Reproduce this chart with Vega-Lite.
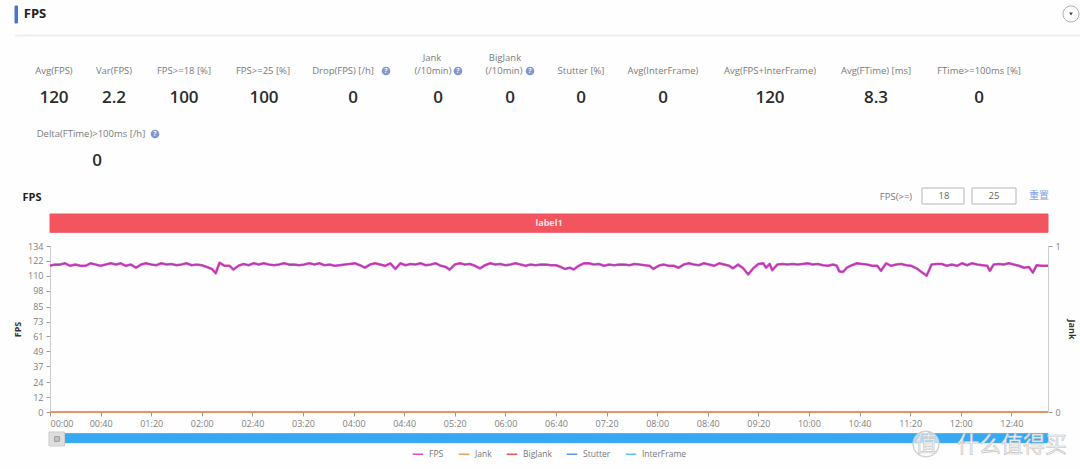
{"$schema":"https://vega.github.io/schema/vega-lite/v6.json","width":998,"height":166,"autosize":{"type":"none"},"padding":{"left":50,"top":246,"right":32,"bottom":57},"background":"#fefefe","config":{"view":{"stroke":null},"font":"Open Sans"},"resolve":{"scale":{"x":"independent","y":"independent"}},
"layer":[
{"data":{"values":[{"id":1,"item":"slider"},{"id":2,"item":"banner"},{"id":3,"item":"accent"},{"id":4,"item":"divider"},{"id":5,"item":"input18"},{"id":6,"item":"input25"},{"id":7,"item":"handle"}]},
"transform":[{"lookup":"item","from":{"data":{"values":[{"item":"accent","a":1,"b":2},{"item":"divider","a":3,"b":4},{"item":"input18","a":5,"b":6},{"item":"input25","a":7,"b":8},{"item":"handle","a":9,"b":10},{"item":"banner","a":11,"b":12},{"item":"slider","a":13,"b":14}]},"key":"item","fields":["a","b"]}}],
"mark":{"type":"rect","strokeWidth":1},
"encoding":{"x":{"field":"a","type":"quantitative","axis":null,"scale":{"nice":false,"zero":false,"domain":[1,2,3,4,5,6,7,8,9,10,11,12,13,14],"range":[-35,-32.5,-35,1030,872,914,922,966,-1,14.5,0,998,0,998]}},"x2":{"field":"b"},
"y":{"field":"a","type":"quantitative","axis":null,"scale":{"nice":false,"zero":false,"domain":[1,2,3,4,5,6,7,8,9,10,11,12,13,14],"range":[-240,-223,-211,-210,-58,-42,-58,-42,186,200,-32,-13.7,187.7,196.7]}},"y2":{"field":"b"},
"fill":{"field":"item","type":"nominal","legend":null,"scale":{"domain":["accent","divider","input18","input25","handle","banner","slider"],"range":["#4a74c9","#efefec","#ffffff","#ffffff","#dedede","#f2555f","#36a9f2"]}},
"stroke":{"field":"item","type":"nominal","legend":null,"scale":{"domain":["accent","divider","input18","input25","handle","banner","slider"],"range":["#4a74c9","#efefec","#b5b5b5","#b5b5b5","#cccccc","#f2555f","#36a9f2"]}}}},
{"data":{"values":[{"t":0,"fps":118},{"t":4,"fps":119},{"t":8,"fps":119},{"t":12,"fps":120},{"t":16,"fps":118},{"t":20,"fps":119},{"t":24,"fps":118},{"t":28,"fps":118},{"t":32,"fps":120},{"t":36,"fps":119},{"t":40,"fps":118},{"t":44,"fps":119},{"t":48,"fps":120},{"t":52,"fps":119},{"t":56,"fps":120},{"t":60,"fps":118},{"t":64,"fps":119},{"t":68,"fps":116.5},{"t":72,"fps":119},{"t":76,"fps":120},{"t":80,"fps":119},{"t":84,"fps":118.5},{"t":88,"fps":120},{"t":92,"fps":119},{"t":96,"fps":119.5},{"t":100,"fps":118.5},{"t":104,"fps":119},{"t":108,"fps":120},{"t":112,"fps":118.5},{"t":116,"fps":119},{"t":120,"fps":118.5},{"t":124,"fps":117},{"t":128,"fps":115.5},{"t":131,"fps":112},{"t":134,"fps":120.5},{"t":138,"fps":118},{"t":142,"fps":118},{"t":145,"fps":115},{"t":149,"fps":118},{"t":153,"fps":119.5},{"t":157,"fps":118.5},{"t":161,"fps":120},{"t":165,"fps":119},{"t":169,"fps":120},{"t":173,"fps":119},{"t":177,"fps":118.5},{"t":181,"fps":119},{"t":185,"fps":120},{"t":189,"fps":119},{"t":193,"fps":119},{"t":197,"fps":118.5},{"t":201,"fps":119},{"t":205,"fps":120},{"t":209,"fps":119},{"t":213,"fps":120},{"t":217,"fps":118.5},{"t":221,"fps":119},{"t":225,"fps":118},{"t":229,"fps":118.5},{"t":233,"fps":119},{"t":237,"fps":119.5},{"t":241,"fps":120},{"t":245,"fps":118.5},{"t":249,"fps":116.5},{"t":253,"fps":119},{"t":257,"fps":120},{"t":261,"fps":119},{"t":265,"fps":118},{"t":269,"fps":120},{"t":273,"fps":115.5},{"t":277,"fps":120},{"t":281,"fps":118.5},{"t":285,"fps":119.5},{"t":289,"fps":119},{"t":293,"fps":120},{"t":297,"fps":118.5},{"t":301,"fps":119},{"t":305,"fps":120},{"t":309,"fps":118},{"t":313,"fps":117},{"t":316,"fps":115},{"t":320,"fps":119},{"t":324,"fps":120},{"t":328,"fps":119},{"t":332,"fps":119.5},{"t":336,"fps":118},{"t":340,"fps":116},{"t":344,"fps":118.5},{"t":348,"fps":120},{"t":352,"fps":119},{"t":356,"fps":119.5},{"t":360,"fps":118.5},{"t":364,"fps":119},{"t":368,"fps":120},{"t":372,"fps":119},{"t":376,"fps":118},{"t":380,"fps":119},{"t":384,"fps":118.5},{"t":388,"fps":119},{"t":392,"fps":119},{"t":396,"fps":118.5},{"t":400,"fps":118.5},{"t":404,"fps":117},{"t":407,"fps":115.5},{"t":411,"fps":116.5},{"t":414,"fps":115},{"t":418,"fps":118},{"t":422,"fps":120},{"t":426,"fps":120},{"t":430,"fps":119},{"t":434,"fps":119.5},{"t":438,"fps":118},{"t":442,"fps":119},{"t":446,"fps":118.5},{"t":450,"fps":119},{"t":454,"fps":119},{"t":458,"fps":118.5},{"t":462,"fps":119.5},{"t":466,"fps":119},{"t":470,"fps":118.5},{"t":474,"fps":118},{"t":477,"fps":115.5},{"t":481,"fps":118},{"t":485,"fps":119},{"t":489,"fps":118},{"t":493,"fps":118},{"t":497,"fps":116.5},{"t":501,"fps":119},{"t":505,"fps":120},{"t":509,"fps":119},{"t":513,"fps":118.5},{"t":517,"fps":120},{"t":521,"fps":119},{"t":525,"fps":118},{"t":529,"fps":120},{"t":533,"fps":119},{"t":537,"fps":118},{"t":540,"fps":116},{"t":544,"fps":119},{"t":548,"fps":116},{"t":552,"fps":111},{"t":556,"fps":116},{"t":560,"fps":119.5},{"t":564,"fps":120},{"t":566,"fps":116.5},{"t":569,"fps":119.5},{"t":571,"fps":114.5},{"t":575,"fps":119},{"t":579,"fps":119.5},{"t":583,"fps":119},{"t":587,"fps":119.5},{"t":591,"fps":119},{"t":595,"fps":119.5},{"t":599,"fps":120},{"t":603,"fps":119},{"t":607,"fps":119.5},{"t":611,"fps":118.5},{"t":615,"fps":118},{"t":619,"fps":119},{"t":622,"fps":118},{"t":624,"fps":113.5},{"t":627,"fps":113},{"t":630,"fps":116.5},{"t":634,"fps":118.5},{"t":638,"fps":120},{"t":642,"fps":119.5},{"t":646,"fps":119},{"t":650,"fps":118},{"t":654,"fps":118},{"t":657,"fps":114},{"t":661,"fps":120},{"t":665,"fps":118},{"t":669,"fps":119},{"t":673,"fps":119.5},{"t":677,"fps":118.5},{"t":681,"fps":118},{"t":685,"fps":116},{"t":689,"fps":113},{"t":693,"fps":110},{"t":697,"fps":119},{"t":701,"fps":119.5},{"t":705,"fps":119.5},{"t":709,"fps":118},{"t":713,"fps":119},{"t":717,"fps":118},{"t":721,"fps":120},{"t":725,"fps":118.5},{"t":729,"fps":120},{"t":733,"fps":119},{"t":737,"fps":118.5},{"t":741,"fps":118},{"t":743,"fps":114},{"t":746,"fps":119},{"t":750,"fps":119.5},{"t":754,"fps":119},{"t":758,"fps":120},{"t":762,"fps":119},{"t":766,"fps":118},{"t":770,"fps":116.5},{"t":774,"fps":117},{"t":777,"fps":112.5},{"t":780,"fps":118.5},{"t":784,"fps":118},{"t":789,"fps":118}]},
"transform":[{"calculate":"'FPS'","as":"series"}],
"encoding":{"x":{"field":"t","type":"quantitative","scale":{"domain":[0,789],"nice":false,"zero":false},"axis":{"values":[0,40,80,120,160,200,240,280,320,360,400,440,480,520,560,600,640,680,720,760],"labelExpr":"utcFormat(datum.value*1000,'%M:%S')","title":null,"grid":false,"domain":false,"tickColor":"#999999","tickSize":4,"labelColor":"#808080","labelFontSize":9,"labelPadding":3,"labelFlush":true}},
"y":{"field":"fps","type":"quantitative","scale":{"domain":[0,134],"nice":false,"zero":false},"axis":{"values":[0,12,24,37,49,61,73,85,98,110,122,134],"title":"FPS","titleFontSize":9,"titleFontWeight":"bold","titleColor":"#333333","titlePadding":5,"grid":false,"domainColor":"#cccccc","tickColor":"#999999","tickSize":4,"labelColor":"#808080","labelFontSize":9,"labelPadding":3}}},
"layer":[
{"mark":{"type":"line","strokeWidth":2.6,"strokeJoin":"round"},
"encoding":{"color":{"field":"series","type":"nominal","scale":{"domain":["FPS","Jank","BigJank","Stutter","InterFrame"],"range":["#d64cc6","#f0a060","#e05a4a","#5b9bd5","#5cc4ea"]},"legend":{"orient":"none","legendX":362,"legendY":202,"direction":"horizontal","columns":5,"title":null,"symbolType":"stroke","symbolSize":110,"symbolStrokeWidth":1.5,"labelFontSize":8.5,"labelColor":"#777777","columnPadding":11,"labelOffset":5,"padding":0}}}},
{"mark":{"type":"line","strokeWidth":0.7,"color":"#8f3590","strokeJoin":"round"}}]},
{"data":{"values":[{"series":"InterFrame","t":0,"v":0},{"series":"InterFrame","t":789,"v":0},{"series":"Stutter","t":0,"v":0},{"series":"Stutter","t":789,"v":0},{"series":"BigJank","t":0,"v":0},{"series":"BigJank","t":789,"v":0},{"series":"Jank","t":0,"v":0},{"series":"Jank","t":789,"v":0}]},
"mark":{"type":"line","strokeWidth":1.5},
"encoding":{"x":{"field":"t","type":"quantitative","axis":null,"scale":{"domain":[0,789],"nice":false,"zero":false}},
"y":{"field":"v","type":"quantitative","scale":{"domain":[0,1],"nice":false,"zero":false},"axis":{"orient":"right","values":[0,1],"format":"d","title":"Jank","titleFontSize":9,"titleFontWeight":"bold","titleColor":"#333333","titlePadding":6,"grid":false,"domainColor":"#cccccc","tickColor":"#999999","tickSize":4,"labelColor":"#808080","labelFontSize":9,"labelPadding":3}},
"color":{"field":"series","type":"nominal","scale":{"domain":["FPS","Jank","BigJank","Stutter","InterFrame"],"range":["#d64cc6","#f0a060","#e05a4a","#5b9bd5","#5cc4ea"]}}}},
{"data":{"values":[{"slot":1,"text":"Avg(FPS)"},{"slot":2,"text":"Var(FPS)"},{"slot":3,"text":"FPS>=18 [%]"},{"slot":4,"text":"FPS>=25 [%]"},{"slot":5,"text":"Drop(FPS) [/h]"},{"slot":6,"text":"Jank"},{"slot":7,"text":"(/10min)"},{"slot":8,"text":"BigJank"},{"slot":9,"text":"(/10min)"},{"slot":10,"text":"Stutter [%]"},{"slot":11,"text":"Avg(InterFrame)"},{"slot":12,"text":"Avg(FPS+InterFrame)"},{"slot":13,"text":"Avg(FTime) [ms]"},{"slot":14,"text":"FTime>=100ms [%]"},{"slot":15,"text":"Delta(FTime)>100ms [/h]"},{"slot":16,"text":"FPS(>=)"}]},
"mark":{"type":"text","fontSize":9.5,"color":"#7a7a7a","align":"center","baseline":"middle"},
"encoding":{"text":{"field":"text"},
"x":{"field":"slot","type":"quantitative","axis":null,"scale":{"nice":false,"zero":false,"domain":[1,2,3,4,5,6,7,8,9,10,11,12,13,14,15,16],"range":[4,64,134,213,293,382,383,455,454,531,613,720,826,929,41,846]}},
"y":{"field":"slot","type":"quantitative","axis":null,"scale":{"nice":false,"zero":false,"domain":[1,2,3,4,5,6,7,8,9,10,11,12,13,14,15,16],"range":[-175,-175,-175,-175,-175,-188,-175,-188,-175,-175,-175,-175,-175,-175,-112,-49]}}}},
{"data":{"values":[{"slot":1,"text":"120"},{"slot":2,"text":"2.2"},{"slot":3,"text":"100"},{"slot":4,"text":"100"},{"slot":5,"text":"0"},{"slot":6,"text":"0"},{"slot":7,"text":"0"},{"slot":8,"text":"0"},{"slot":9,"text":"0"},{"slot":10,"text":"120"},{"slot":11,"text":"8.3"},{"slot":12,"text":"0"},{"slot":13,"text":"0"}]},
"mark":{"type":"text","fontSize":17,"fontWeight":600,"color":"#2b2b2b","align":"center","baseline":"middle"},
"encoding":{"text":{"field":"text"},
"x":{"field":"slot","type":"quantitative","axis":null,"scale":{"nice":false,"zero":false,"domain":[1,2,3,4,5,6,7,8,9,10,11,12,13],"range":[4,64,134,214,303,388,460,531,613,720,826,929,47]}},
"y":{"field":"slot","type":"quantitative","axis":null,"scale":{"nice":false,"zero":false,"domain":[1,2,3,4,5,6,7,8,9,10,11,12,13],"range":[-148,-148,-148,-148,-148,-148,-148,-148,-148,-148,-148,-148,-85]}}}},
{"data":{"values":[{"slot":1,"text":"FPS","role":"section"},{"slot":2,"text":"FPS","role":"chart"}]},
"mark":{"type":"text","fontWeight":"bold","color":"#222222","align":"center","baseline":"middle"},
"encoding":{"text":{"field":"text"},
"size":{"field":"role","type":"nominal","legend":null,"scale":{"domain":["section","chart"],"range":[13,11]}},
"x":{"field":"slot","type":"quantitative","axis":null,"scale":{"nice":false,"zero":false,"domain":[1,2],"range":[-15,-18]}},
"y":{"field":"slot","type":"quantitative","axis":null,"scale":{"nice":false,"zero":false,"domain":[1,2],"range":[-232,-48]}}}},
{"data":{"values":[{"slot":1,"text":"18"},{"slot":2,"text":"25"}]},
"mark":{"type":"text","fontSize":9.5,"color":"#666666","align":"center","baseline":"middle"},
"encoding":{"text":{"field":"text"},
"x":{"field":"slot","type":"quantitative","axis":null,"scale":{"nice":false,"zero":false,"domain":[1,2],"range":[894,944]}},
"y":{"field":"slot","type":"quantitative","axis":null,"scale":{"nice":false,"zero":false,"domain":[1,2],"range":[-50,-50]}}}},
{"data":{"values":[{"slot":1,"text":"重置"}]},
"mark":{"type":"text","font":"Noto Sans CJK SC","fontSize":10,"color":"#7ea0e6","align":"center","baseline":"middle"},
"encoding":{"text":{"field":"text"},
"x":{"field":"slot","type":"quantitative","axis":null,"scale":{"nice":false,"zero":false,"domain":[0,1],"range":[0,989]}},
"y":{"field":"slot","type":"quantitative","axis":null,"scale":{"nice":false,"zero":false,"domain":[0,1],"range":[0,-50]}}}},
{"data":{"values":[{"slot":1,"text":"label1"}]},
"mark":{"type":"text","fontSize":9,"fontWeight":"bold","color":"#fbe3e3","align":"center","baseline":"middle"},
"encoding":{"text":{"field":"text"},
"x":{"field":"slot","type":"quantitative","axis":null,"scale":{"nice":false,"zero":false,"domain":[0,1],"range":[0,499]}},
"y":{"field":"slot","type":"quantitative","axis":null,"scale":{"nice":false,"zero":false,"domain":[0,1],"range":[0,-23]}}}},
{"data":{"values":[{"slot":1,"help":"Drop"},{"slot":2,"help":"Jank"},{"slot":3,"help":"BigJank"},{"slot":4,"help":"Delta"}]},
"mark":{"type":"point","filled":true,"size":75,"color":"#7f97cf","opacity":1},
"encoding":{"x":{"field":"slot","type":"quantitative","axis":null,"scale":{"nice":false,"zero":false,"domain":[1,2,3,4],"range":[336,408,480,105]}},
"y":{"field":"slot","type":"quantitative","axis":null,"scale":{"nice":false,"zero":false,"domain":[1,2,3,4],"range":[-175,-175,-175,-112]}}}},
{"data":{"values":[{"slot":1,"text":"?"},{"slot":2,"text":"?"},{"slot":3,"text":"?"},{"slot":4,"text":"?"}]},
"mark":{"type":"text","fontSize":7,"fontWeight":"bold","color":"#ffffff","align":"center","baseline":"middle"},
"encoding":{"text":{"field":"text"},"x":{"field":"slot","type":"quantitative","axis":null,"scale":{"nice":false,"zero":false,"domain":[1,2,3,4],"range":[336,408,480,105]}},
"y":{"field":"slot","type":"quantitative","axis":null,"scale":{"nice":false,"zero":false,"domain":[1,2,3,4],"range":[-175,-175,-175,-112]}}}},
{"data":{"values":[{"slot":1,"control":"collapse"}]},
"mark":{"type":"point","shape":"circle","size":260,"fill":"#ffffff","stroke":"#b0b0b0","strokeWidth":1,"opacity":1},
"encoding":{"x":{"field":"slot","type":"quantitative","axis":null,"scale":{"nice":false,"zero":false,"domain":[0,1],"range":[0,1021]}},
"y":{"field":"slot","type":"quantitative","axis":null,"scale":{"nice":false,"zero":false,"domain":[0,1],"range":[0,-232]}}}},
{"data":{"values":[{"slot":1,"control":"collapse arrow"}]},
"mark":{"type":"point","shape":"triangle-down","size":14,"filled":true,"color":"#444444","opacity":1},
"encoding":{"x":{"field":"slot","type":"quantitative","axis":null,"scale":{"nice":false,"zero":false,"domain":[0,1],"range":[0,1021]}},
"y":{"field":"slot","type":"quantitative","axis":null,"scale":{"nice":false,"zero":false,"domain":[0,1],"range":[0,-232]}}}},
{"data":{"values":[{"slot":1,"control":"slider grip"}]},
"mark":{"type":"point","shape":"square","size":22,"fill":"#c4c4c4","stroke":"#999999","strokeWidth":1,"opacity":1},
"encoding":{"x":{"field":"slot","type":"quantitative","axis":null,"scale":{"nice":false,"zero":false,"domain":[0,1],"range":[0,7]}},
"y":{"field":"slot","type":"quantitative","axis":null,"scale":{"nice":false,"zero":false,"domain":[0,1],"range":[0,193]}}}},
{"data":{"values":[{"slot":1,"mark":"watermark ring"}]},
"mark":{"type":"point","shape":"circle","size":660,"fill":"#ffffff","fillOpacity":0.6,"stroke":"#d2d2d2","strokeWidth":1.5,"opacity":1},
"encoding":{"x":{"field":"slot","type":"quantitative","axis":null,"scale":{"nice":false,"zero":false,"domain":[0,1],"range":[0,876]}},
"y":{"field":"slot","type":"quantitative","axis":null,"scale":{"nice":false,"zero":false,"domain":[0,1],"range":[0,198]}}}},
{"data":{"values":[{"slot":1,"text":"值"},{"slot":2,"text":"什么值得买"}]},
"mark":{"type":"text","font":"Noto Sans CJK SC","fontSize":22,"fill":"#f6f6f6","stroke":"#c4c4c4","strokeWidth":0.6,"align":"center","baseline":"middle"},
"encoding":{"text":{"field":"text"},"x":{"field":"slot","type":"quantitative","axis":null,"scale":{"nice":false,"zero":false,"domain":[1,2],"range":[876,962]}},
"y":{"field":"slot","type":"quantitative","axis":null,"scale":{"nice":false,"zero":false,"domain":[1,2],"range":[198,199]}}}}
]}
